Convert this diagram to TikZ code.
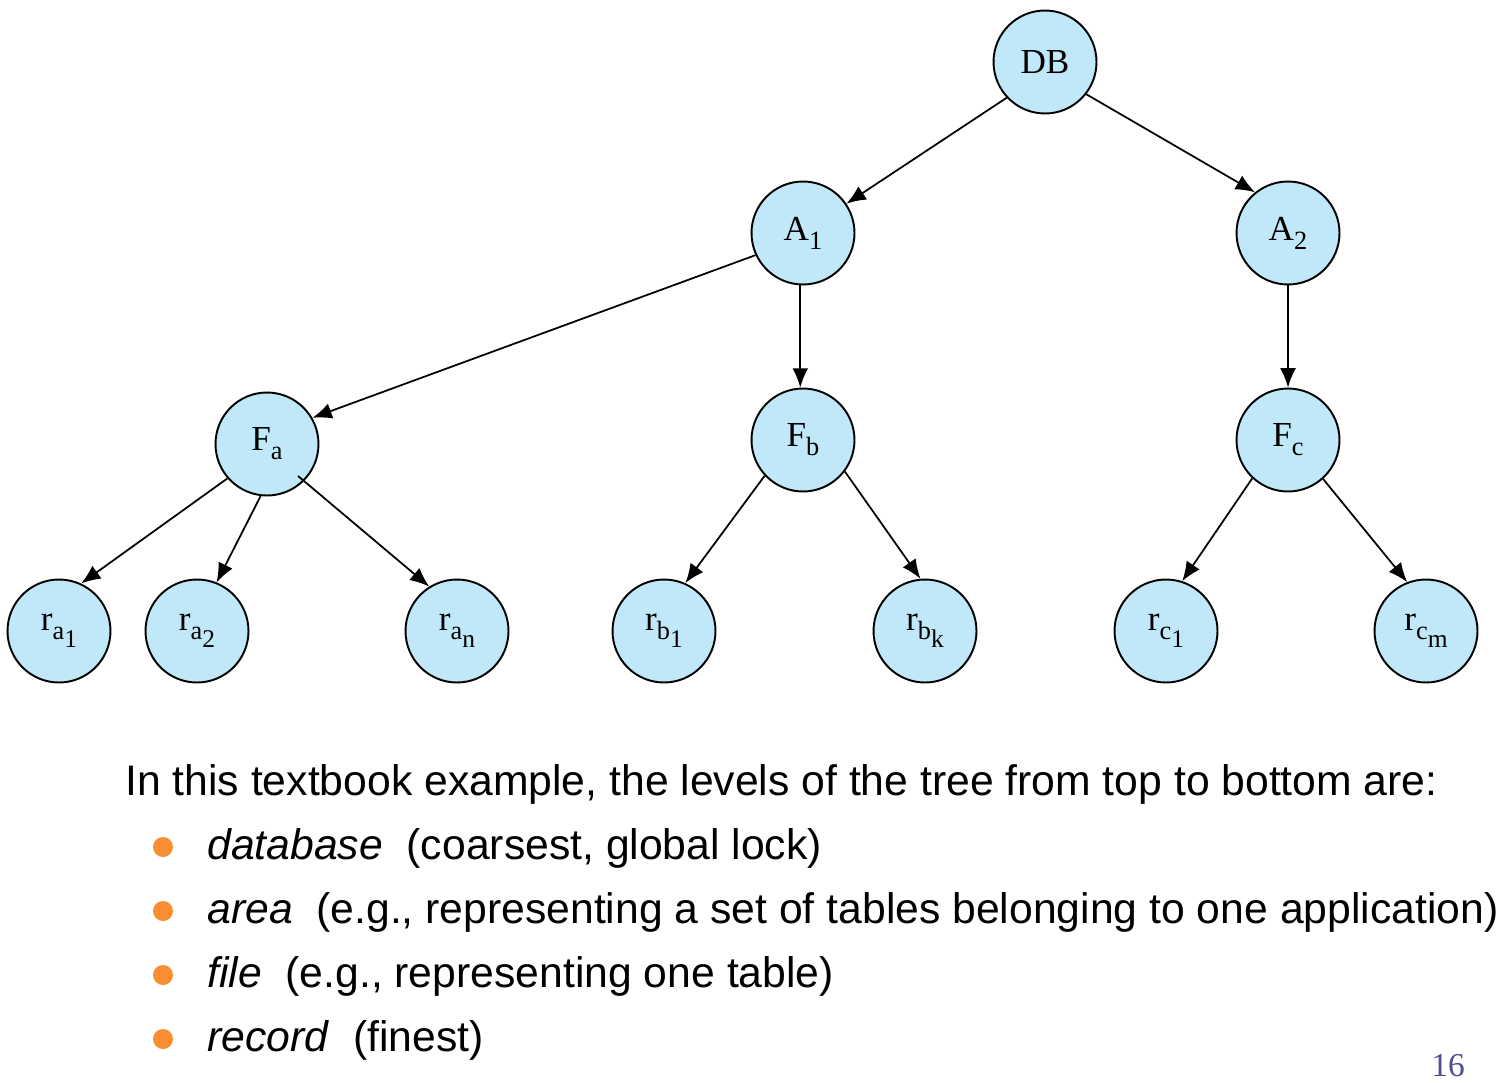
\documentclass[tikz,border=0pt]{standalone}
\usepackage{fontspec}
\setsansfont{Liberation Sans}
\newfontfamily\nodefont{Liberation Serif}
\usetikzlibrary{arrows.meta}
\definecolor{nodefill}{RGB}{192,232,248}
\definecolor{bulletc}{RGB}{247,142,52}
\definecolor{pagenum}{RGB}{78,78,150}
\newcommand\lsub[1]{\raisebox{-0.26em}{\fontsize{15}{16}\selectfont #1}}
\newcommand\llsub[1]{\raisebox{-0.3em}{\fontsize{14.5}{16}\selectfont #1}}
\begin{document}
\begin{tikzpicture}[x=0.02cm,y=-0.02cm,
  tnode/.style={circle,draw=black,line width=1.1pt,fill=nodefill,minimum size=2.06cm,inner sep=0pt,font=\nodefont\fontsize{20}{22}\selectfont},
  arr/.style={-{Latex[length=11pt,width=9pt]},line width=1pt},
  txt/.style={anchor=base west,inner sep=0pt,font=\sffamily\fontsize{24.3}{29}\selectfont},
  bul/.style={circle,fill=bulletc,inner sep=0pt,minimum size=0.4cm}]
\useasboundingbox (0,0) rectangle (1506,1082);
% tree nodes
\node[tnode] (DB) at (1045,62) {DB};
\node[tnode] (A1) at (803,233) {A\lsub{1}};
\node[tnode] (A2) at (1288,233) {A\lsub{2}};
\node[tnode] (Fa) at (267,444) {F\lsub{a}};
\node[tnode] (Fb) at (803,440) {F\lsub{b}};
\node[tnode] (Fc) at (1288,440) {F\lsub{c}};
\node[tnode] (ra1) at (59,631) {r\lsub{a\llsub{1}}};
\node[tnode] (ra2) at (197,631) {r\lsub{a\llsub{2}}};
\node[tnode] (ran) at (457,631) {r\lsub{a\llsub{n}}};
\node[tnode] (rb1) at (664,631) {r\lsub{b\llsub{1}}};
\node[tnode] (rbk) at (925,631) {r\lsub{b\llsub{k}}};
\node[tnode] (rc1) at (1166,631) {r\lsub{c\llsub{1}}};
\node[tnode] (rcm) at (1426,631) {r\lsub{c\llsub{m}}};
% connectors
\draw[arr] (DB.-137) -- (A1.34);
\draw[arr] (DB.-38) -- (A2.129);
\draw[arr] (A1.-155) -- (Fa.30);
\draw[arr] (A1.-93) -- (Fb.93);
\draw[arr] (A2.south) -- (Fc.north);
\draw[arr] (Fa.-139) -- (ra1.65);
\draw[arr] (Fa.-97) -- (ra2.68);
\draw[arr,shorten <=-0.16cm] (Fa.-45) -- (ran.122);
\draw[arr] (Fb.-137) -- (rb1.66);
\draw[arr] (Fb.-37) -- (rbk.95);
\draw[arr] (Fc.-133) -- (rc1.72);
\draw[arr] (Fc.-48) -- (rcm.111);
% text
\node[txt] (intro) at (125,795) {In this textbook example, the levels of the tree from top to bottom are:};
\node[bul] (b1) at (163,847) {};
\node[bul] (b2) at (163,911) {};
\node[bul] (b3) at (163,975) {};
\node[bul] (b4) at (163,1039) {};
\node[txt] (t1) at (207,859) {\textit{database}\ \ (coarsest, global lock)};
\node[txt] (t2) at (207,923) {\textit{area}\ \ (e.g., representing a set of tables belonging to one application)};
\node[txt] (t3) at (207,987) {\textit{file}\ \ (e.g., representing one table)};
\node[txt] (t4) at (207,1051) {\textit{record}\ \ (finest)};
\node[anchor=base,inner sep=0pt,text=pagenum,font=\nodefont\fontsize{19}{20}\selectfont] (pg) at (1448,1076) {16};
\end{tikzpicture}
\end{document}
